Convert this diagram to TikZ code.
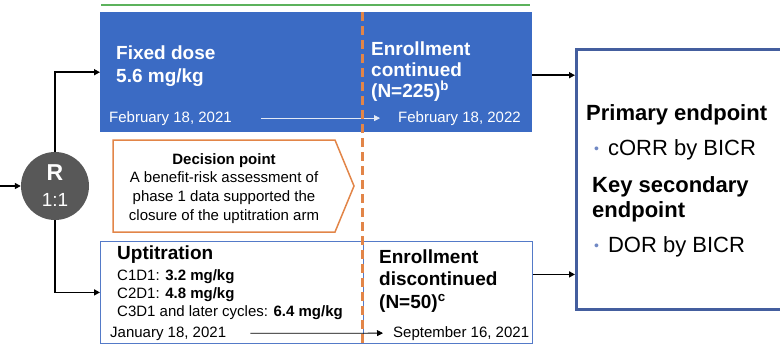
\documentclass[tikz,border=0pt]{standalone}
\usepackage{fontspec}
\setmainfont{Liberation Sans}
\usetikzlibrary{arrows.meta}

\definecolor{armblue}{RGB}{59,107,196}
\definecolor{lineblue}{RGB}{84,122,200}
\definecolor{endblue}{RGB}{68,94,158}
\definecolor{cutorange}{RGB}{226,133,72}
\definecolor{topgreen}{RGB}{92,178,92}
\definecolor{rgray}{RGB}{88,88,88}
\definecolor{dotblue}{RGB}{112,136,196}

\newcommand{\fs}[2]{\fontsize{#1}{#2}\selectfont}
\newcommand{\dotmark}{\textcolor{dotblue}{\fs{14}{14}\raisebox{1.5pt}{•}}\hspace{9pt}}

\tikzset{
    flow/.style={line width=1.6pt, -{Triangle[length=6pt,width=6pt]}},
    timeline/.style={line width=0.8pt, -{Triangle[length=6pt,width=6pt]}},
    txt/.style={inner sep=0pt, anchor=base west, align=left},
    armtitle/.style={txt, font=\fs{19}{22}\bfseries},
    datetext/.style={txt, font=\fs{15}{18}},
    endtext/.style={txt, font=\fs{22}{25}},
}

\begin{document}
\begin{tikzpicture}[x=1pt,y=-1pt]
        \useasboundingbox (0,0) rectangle (780,346);

        % Top rule
        \draw[topgreen, line width=1.2pt] (101,5) -- (530,5);

        % Fixed dose arm (multi-line labels sit on their last baseline)
        \node (fixed) [fill=armblue, minimum width=432pt, minimum height=120pt,
            inner sep=0pt, anchor=north west] at (100,12) {};
        \node (fixlbl) [armtitle, text=white, font=\fs{19}{23}\bfseries] at (116,82) {Fixed dose\\5.6 mg/kg};
        \node (fixcont) [armtitle, text=white, font=\fs{19}{21}\bfseries] at (371,97) {Enrollment\\continued\\(N=225)\textsuperscript{b}};
        \node (fixstart) [datetext, text=white] at (109,122) {February 18, 2021};
        \node (fixend) [datetext, text=white] at (398,122) {February 18, 2022};
        \draw[timeline, white!85!armblue] ([xshift=29pt]fixstart.east) -- ([xshift=-18pt]fixend.west);

        % Uptitration arm
        \node (uptit) [draw=lineblue, line width=0.8pt, minimum width=432pt, minimum height=102pt,
            inner sep=0pt, anchor=north west] at (100,241) {};
        \draw[lineblue, line width=0.6pt] (363,241) -- (363,343);
        \node (uplbl) [armtitle] at (117,259) {Uptitration};
        \node (c1d1) [datetext] at (117,280) {C1D1: \textbf{3.2 mg/kg}};
        \node (c2d1) [datetext] at (117,298) {C2D1: \textbf{4.8 mg/kg}};
        \node (c3d1) [datetext] at (117,316) {C3D1 and later cycles: \textbf{6.4 mg/kg}};
        \node (upcont) [armtitle, font=\fs{19}{22.5}\bfseries] at (379,308) {Enrollment\\discontinued\\(N=50)\textsuperscript{c}};
        \node (upstart) [datetext] at (110,337) {January 18, 2021};
        \node (upend) [datetext] at (393,337) {September 16, 2021};
        \draw[timeline] ([xshift=24pt]upstart.east) -- ([xshift=-10pt]upend.west);

        % Decision point
        \draw[cutorange, line width=1.5pt, line join=miter]
            (113,140) -- (335,140) -- (354,186) -- (335,232) -- (113,232) -- cycle;
        \node (decision) [inner sep=0pt, anchor=north, align=center, font=\fs{15}{18.7}] at (224,153)
            {\textbf{Decision point}\\A benefit-risk assessment of\\phase 1 data supported the\\closure of the uptitration arm};

        % Cut-off date
        \draw[cutorange, line width=3pt, dash pattern=on 9pt off 5pt] (362,12) -- (362,346);

        % Endpoints
        \node (ends) [draw=endblue, line width=2.5pt, minimum width=300pt, minimum height=260pt,
            inner sep=0pt, anchor=north west] at (575,48) {};
        \node (prim) [endtext, font=\fs{22}{25}\bfseries] at (586,120) {Primary endpoint};
        \node (corr) [endtext] at (594,155) {\dotmark cORR by BICR};
        \node (keysec) [endtext, font=\fs{22}{25}\bfseries] at (592,217) {Key secondary\\endpoint};
        \node (dor) [endtext] at (594,252) {\dotmark DOR by BICR};

        % Randomisation
        \node (rnd) [circle, fill=rgray, minimum size=68pt, inner sep=0pt, text=white,
            align=center, font=\fs{19}{26}] at (55,186) {{\fs{23}{26}\bfseries R}\\1:1};
        \coordinate (entry) at (0,186);
        \draw[flow] (entry) -- (rnd);
        \draw[flow] (rnd) |- (fixed);
        \draw[flow] (rnd) |- (uptit);
        \draw[flow] ([yshift=-3pt]fixed.east) -- ([yshift=-3pt]fixed.east -| ends.west);
        \draw[flow] ([yshift=18pt]uptit.east) -- ([yshift=18pt]uptit.east -| ends.west);
\end{tikzpicture}
\end{document}
